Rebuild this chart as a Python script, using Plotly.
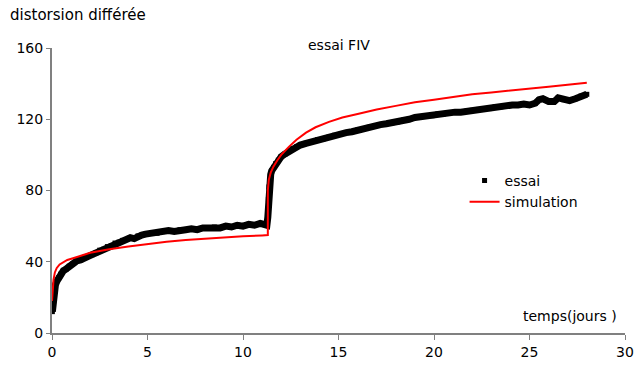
import plotly.graph_objects as go

essai_t = [0.02, 0.05, 0.08, 0.12, 0.18, 0.25, 0.35, 0.45, 0.6, 0.75, 0.9, 1.1, 1.3, 1.5, 1.7, 1.9,
           2.1, 2.3, 2.5, 2.7, 2.9, 3.1, 3.3, 3.5, 3.7, 3.9, 4.1, 4.3, 4.5, 4.7, 4.9, 5.2, 5.5, 5.8,
           6.1, 6.4, 6.7, 7.0, 7.3, 7.6, 7.9, 8.2, 8.5, 8.8, 9.1, 9.4, 9.7, 10.0, 10.3, 10.6, 10.9,
           11.1, 11.25, 11.3, 11.33, 11.36, 11.4, 11.45, 11.5, 11.6, 11.7, 11.85, 12.0, 12.2, 12.4,
           12.6, 12.8, 13.0, 13.3, 13.6, 13.9, 14.2, 14.5, 14.8, 15.1, 15.4, 15.7, 16.0, 16.3, 16.6,
           16.9, 17.2, 17.5, 17.8, 18.1, 18.4, 18.7, 19.0, 19.3, 19.6, 19.9, 20.2, 20.5, 20.8, 21.1,
           21.4, 21.7, 22.0, 22.3, 22.6, 22.9, 23.2, 23.5, 23.8, 24.1, 24.4, 24.7, 25.0, 25.3, 25.5,
           25.7, 26.0, 26.3, 26.5, 26.8, 27.1, 27.4, 27.7, 28.0]
essai_y = [12, 16, 20, 24, 27, 29, 31, 33, 35, 36, 37.5, 39, 40.5, 41, 42.5, 43,
           44, 45, 46.5, 47, 48.5, 49, 50.5, 51, 52, 52.5, 53.5, 53, 54.5, 55, 55.5, 56, 56, 57,
           57.5, 57, 58, 58, 58.5, 58, 59, 59, 59.5, 59, 60, 59.5, 60.5, 60, 61, 60.5, 61.5,
           61, 60.5, 65, 75, 82, 86, 89, 91, 93, 95, 97, 99, 100.5, 102,
           103.5, 104.5, 105.5, 106.5, 107.5, 108.5, 109, 110, 111, 111.5, 112.5, 113, 114, 114.5, 115.5,
           116, 117, 117.5, 118, 118.5, 119.5, 120, 121, 121.5, 122, 122, 123, 123, 123.5, 124,
           124, 124.5, 125, 125.5, 126, 126, 127, 127, 127.5, 128, 128, 128.5, 128, 129, 131,
           131.5, 130, 130, 132, 131, 130.5, 131.5, 133, 134]

# simulation
sim_t = [0, 0.03, 0.08, 0.15, 0.25, 0.4, 0.6, 0.8, 1.1, 1.5, 2, 2.5, 3, 4, 5, 6, 7, 8, 9, 10, 11,
         11.3, 11.3, 11.35, 11.45, 11.6, 11.8, 12.0, 12.4, 12.8, 13.3, 13.8, 14.5, 15.2, 16, 17, 18,
         19, 20, 21, 22, 23, 24, 25, 26, 27, 28]
sim_y = [18, 25, 30, 34, 36.5, 38.5, 40, 41, 42, 43.5, 45, 46, 47, 48.5, 50, 51.2, 52.2, 53, 53.7,
         54.3, 54.8, 55, 80, 86, 90, 93.5, 97, 100, 104.5, 108.5, 112.5, 115.5, 118.5, 121, 123,
         125.5, 127.5, 129.5, 131, 132.5, 134, 135, 136.2, 137.2, 138.3, 139.3, 140.5]

x_ticks = [0, 5, 10, 15, 20, 25, 30]
y_ticks = [0, 40, 80, 120, 160]

FONT = "DejaVu Sans, Verdana, sans-serif"

fig = go.Figure()
# dense band of measured points
fig.add_trace(go.Scatter(x=essai_t, y=essai_y, mode="lines", showlegend=False,
                         line=dict(color="black", width=7), hoverinfo="skip"))
fig.add_trace(go.Scatter(x=essai_t, y=essai_y, mode="markers", name="essai",
                         marker=dict(symbol="square", size=5, color="black")))
fig.add_trace(go.Scatter(x=sim_t, y=sim_y, mode="lines", name="simulation",
                         line=dict(color="#ff0000", width=2)))

axis_common = dict(showgrid=False, zeroline=False, showline=True, linecolor="#808080",
                   linewidth=2, ticks="outside", tickcolor="#808080", tickwidth=1,
                   tickfont=dict(family=FONT, size=14, color="black"))

fig.update_layout(
    width=644, height=370,
    margin=dict(l=52, r=10, t=48, b=32),
    paper_bgcolor="white", plot_bgcolor="white",
    font=dict(family=FONT, size=14, color="black"),
    xaxis=dict(range=[0, 30], tickvals=x_ticks, ticklen=5, **axis_common),
    yaxis=dict(range=[0, 160], tickvals=y_ticks, ticklen=4, **axis_common),
    legend=dict(x=0.72, y=0.59, xanchor="left", yanchor="top",
                bgcolor="rgba(0,0,0,0)", font=dict(family=FONT, size=14),
                itemwidth=30, tracegroupgap=0),
    annotations=[
        dict(text="distorsion différée", xref="paper", yref="paper",
             x=-0.076, y=1.115, xanchor="left", yanchor="middle", showarrow=False,
             font=dict(family=FONT, size=15)),
        dict(text="essai FIV", xref="paper", yref="paper",
             x=0.5, y=1.01, xanchor="center", yanchor="middle", showarrow=False,
             font=dict(family=FONT, size=14)),
        dict(text="temps(jours )", xref="paper", yref="paper",
             x=0.99, y=0.06, xanchor="right", yanchor="middle", showarrow=False,
             font=dict(family=FONT, size=14)),
    ],
)

fig.write_html("out.html", config={"displayModeBar": False},
               post_script="document.body.style.margin='0';")
